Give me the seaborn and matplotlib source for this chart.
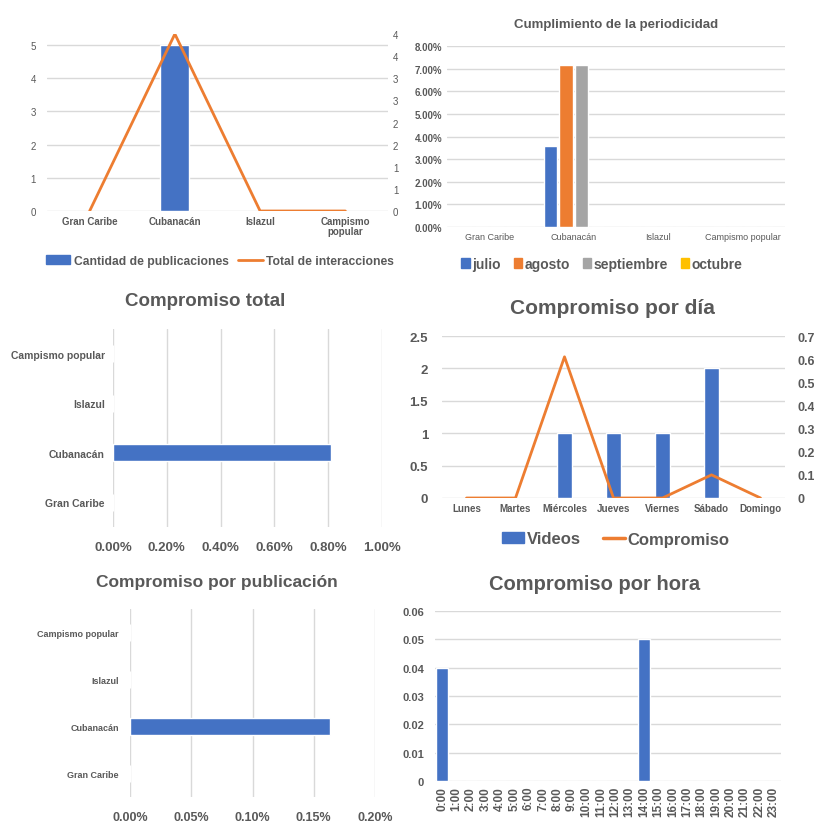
import math
import numpy as np
import pandas as pd
import matplotlib
matplotlib.use("Agg")
import matplotlib.pyplot as plt
from matplotlib.ticker import FuncFormatter, MultipleLocator
from matplotlib.patches import Patch
from matplotlib.lines import Line2D
import seaborn as sns

# ---------------- data ----------------
cadenas = ["Gran Caribe", "Cubanacán", "Islazul", "Campismo\npopular"]
cadenas_flat = ["Gran Caribe", "Cubanacán", "Islazul", "Campismo popular"]
publicaciones = [0, 5, 0, 0]
interacciones = [0, 4, 0, 0]

meses = ["julio", "agosto", "septiembre", "octubre"]
periodicidad_julio = [0, 0.0357, 0, 0]
periodicidad_agosto = [0, 0.0714, 0, 0]
periodicidad_septiembre = [0, 0.0714, 0, 0]
periodicidad_octubre = [0, 0, 0, 0]

compromiso_total = [0, 0.0081, 0, 0]

dias = ["Lunes", "Martes", "Miércoles", "Jueves", "Viernes", "Sábado", "Domingo"]
videos_dia = [0, 0, 1, 1, 1, 2, 0]
compromiso_dia = [0, 0, 0.61, 0, 0, 0.10, 0]

compromiso_pub = [0, 0.00163, 0, 0]

horas = [f"{h}:00" for h in range(24)]
compromiso_hora = [0.04] + [0] * 13 + [0.05] + [0] * 9

# ---------------- style ----------------
sns.set_theme(style="white")
plt.rcParams["font.family"] = ["Liberation Sans", "DejaVu Sans"]
TXT = "#595959"
GRID = "#D9D9D9"
BLUE = "#4472C4"
ORANGE = "#ED7D31"
GRAY = "#A5A5A5"
YELLOW = "#FFC000"

W, H = 814, 828
fig = plt.figure(figsize=(W / 100, H / 100), dpi=100)


def add_ax(x0, y0, x1, y1):
    return fig.add_axes([x0 / W, 1 - y1 / H, (x1 - x0) / W, (y1 - y0) / H])


def clean(ax, grid_axis="y"):
    for s in ax.spines.values():
        s.set_visible(False)
    ax.grid(True, axis=grid_axis, color=GRID, linewidth=1)
    ax.grid(False, axis="x" if grid_axis == "y" else "y")
    ax.tick_params(length=0, colors=TXT)
    ax.set_axisbelow(True)
    ax.set_xlabel("")
    ax.set_ylabel("")


def pct(dec):
    return FuncFormatter(lambda v, _: f"{v * 100:.{dec}f}%")


def gen(v, _):
    s = f"{v:.2f}".rstrip("0").rstrip(".")
    return s


# ---------- 1: publicaciones / interacciones ----------
ax1 = add_ax(47, 35, 388, 212)
df1 = pd.DataFrame({"cadena": cadenas, "pub": publicaciones, "inter": interacciones})
sns.barplot(data=df1, x="cadena", y="pub", color=BLUE, width=0.34, ax=ax1, saturation=1)
clean(ax1)
ax1.set_ylim(0, 5.33)
ax1.yaxis.set_major_locator(MultipleLocator(1))
ax1.set_xlim(-0.5, 3.5)
for t in ax1.get_yticklabels():
    t.set_fontsize(7)
for t in ax1.get_xticklabels():
    t.set_fontsize(7)
    t.set_fontweight("bold")
    t.set_linespacing(1.0)
ax1.tick_params(axis="y", pad=8)
ax1b = ax1.twinx()
sns.lineplot(x=np.arange(len(cadenas)), y=df1["inter"], color=ORANGE, linewidth=2, ax=ax1b)
for s in ax1b.spines.values():
    s.set_visible(False)
ax1b.set_ylim(0, 4)
ax1b.yaxis.set_major_locator(MultipleLocator(0.5))
ax1b.yaxis.set_major_formatter(FuncFormatter(lambda v, _: str(int(math.floor(v + 0.5)))))
ax1b.tick_params(length=0, colors=TXT, labelsize=7)
ax1b.set_ylabel("")
ax1b.grid(False)
ax1.set_xlim(-0.5, 3.5)
fig.legend(
    handles=[Patch(color=BLUE, label="Cantidad de publicaciones"),
             Line2D([], [], color=ORANGE, lw=2, label="Total de interacciones")],
    loc="center", bbox_to_anchor=(220 / W, 1 - 262 / H), ncol=2, frameon=False,
    handlelength=2.0, handleheight=0.8, columnspacing=0.8, handletextpad=0.3,
    labelcolor=TXT, prop={"weight": "bold", "size": 8.7},
)

# ---------- 2: Cumplimiento de la periodicidad ----------
ax2 = add_ax(447, 47, 785, 228)
df2 = pd.DataFrame({
    "cadena": cadenas_flat * 4,
    "mes": sum([[m] * 4 for m in meses], []),
    "valor": periodicidad_julio + periodicidad_agosto + periodicidad_septiembre + periodicidad_octubre,
})
sns.barplot(data=df2, x="cadena", y="valor", hue="mes", hue_order=meses,
            palette=[BLUE, ORANGE, GRAY, YELLOW], width=0.74, gap=0.15, ax=ax2,
            saturation=1, legend=False)
clean(ax2)
ax2.set_ylim(0, 0.08)
ax2.yaxis.set_major_locator(MultipleLocator(0.01))
ax2.yaxis.set_major_formatter(pct(2))
for t in ax2.get_yticklabels():
    t.set_fontsize(7)
    t.set_fontweight("bold")
for t in ax2.get_xticklabels():
    t.set_fontsize(6.5)
ax2.set_title("Cumplimiento de la periodicidad", fontsize=9.5, fontweight="bold", color=TXT, pad=14)
fig.legend(
    handles=[Patch(color=c, label=m) for c, m in zip([BLUE, ORANGE, GRAY, YELLOW], meses)],
    loc="center", bbox_to_anchor=(602 / W, 1 - 265 / H), ncol=4, frameon=False,
    handlelength=0.6, handleheight=0.8, columnspacing=0.9, handletextpad=0.2,
    labelcolor=TXT, prop={"weight": "bold", "size": 10},
)

# ---------- 3: Compromiso total ----------
ax3 = add_ax(113, 330, 382, 528)
df3 = pd.DataFrame({"cadena": cadenas_flat[::-1], "valor": compromiso_total[::-1]})
sns.barplot(data=df3, y="cadena", x="valor", color=BLUE, width=0.34, ax=ax3, saturation=1, orient="h")
clean(ax3, "x")
ax3.set_xlim(0, 0.01)
ax3.xaxis.set_major_locator(MultipleLocator(0.002))
ax3.xaxis.set_major_formatter(pct(2))
for t in ax3.get_xticklabels():
    t.set_fontsize(9.5)
    t.set_fontweight("bold")
for t in ax3.get_yticklabels():
    t.set_fontsize(7.5)
    t.set_fontweight("bold")
ax3.tick_params(axis="x", pad=10)
ax3.tick_params(axis="y", pad=6)
fig.text(205 / W, 1 - 302 / H, "Compromiso total", ha="center", va="center",
         fontsize=13.5, fontweight="bold", color=TXT)

# ---------- 4: Compromiso por día ----------
ax4 = add_ax(442, 337, 785, 499)
df4 = pd.DataFrame({"dia": dias, "videos": videos_dia, "comp": compromiso_dia})
sns.barplot(data=df4, x="dia", y="videos", color=BLUE, width=0.31, ax=ax4, saturation=1)
clean(ax4)
ax4.set_ylim(0, 2.5)
ax4.yaxis.set_major_locator(MultipleLocator(0.5))
ax4.yaxis.set_major_formatter(FuncFormatter(gen))
for t in ax4.get_yticklabels():
    t.set_fontsize(9.5)
    t.set_fontweight("bold")
for t in ax4.get_xticklabels():
    t.set_fontsize(7)
    t.set_fontweight("bold")
ax4.tick_params(axis="y", pad=10)
ax4b = ax4.twinx()
sns.lineplot(x=np.arange(len(dias)), y=df4["comp"], color=ORANGE, linewidth=2, ax=ax4b)
for s in ax4b.spines.values():
    s.set_visible(False)
ax4b.set_ylim(0, 0.7)
ax4b.yaxis.set_major_locator(MultipleLocator(0.1))
ax4b.yaxis.set_major_formatter(FuncFormatter(gen))
ax4b.tick_params(length=0, colors=TXT, labelsize=9, pad=9)
for t in ax4b.get_yticklabels():
    t.set_fontweight("bold")
ax4b.set_ylabel("")
ax4b.grid(False)
ax4.set_xlim(-0.5, 6.5)
fig.text(612 / W, 1 - 308 / H, "Compromiso por día", ha="center", va="center",
         fontsize=15, fontweight="bold", color=TXT)
fig.legend(
    handles=[Patch(color=BLUE, label="Videos"),
             Line2D([], [], color=ORANGE, lw=2.5, label="Compromiso")],
    loc="center", bbox_to_anchor=(616 / W, 1 - 540 / H), ncol=2, frameon=False,
    handlelength=1.3, handleheight=0.6, columnspacing=1.3, handletextpad=0.2,
    labelcolor=TXT, prop={"weight": "bold", "size": 12},
)

# ---------- 5: Compromiso por publicación ----------
ax5 = add_ax(130, 610, 375, 798)
df5 = pd.DataFrame({"cadena": cadenas_flat[::-1], "valor": compromiso_pub[::-1]})
sns.barplot(data=df5, y="cadena", x="valor", color=BLUE, width=0.36, ax=ax5, saturation=1, orient="h")
clean(ax5, "x")
ax5.set_xlim(0, 0.002)
ax5.xaxis.set_major_locator(MultipleLocator(0.0005))
ax5.xaxis.set_major_formatter(pct(2))
for t in ax5.get_xticklabels():
    t.set_fontsize(9)
    t.set_fontweight("bold")
for t in ax5.get_yticklabels():
    t.set_fontsize(6.5)
    t.set_fontweight("bold")
ax5.tick_params(axis="x", pad=10)
ax5.tick_params(axis="y", pad=8)
fig.text(217 / W, 1 - 582 / H, "Compromiso por publicación", ha="center", va="center",
         fontsize=12.5, fontweight="bold", color=TXT)

# ---------- 6: Compromiso por hora ----------
ax6 = add_ax(435, 612, 781, 782)
df6 = pd.DataFrame({"hora": horas, "valor": compromiso_hora})
sns.barplot(data=df6, x="hora", y="valor", color=BLUE, width=0.8, ax=ax6, saturation=1)
clean(ax6)
ax6.set_ylim(0, 0.06)
ax6.yaxis.set_major_locator(MultipleLocator(0.01))
ax6.yaxis.set_major_formatter(FuncFormatter(gen))
for t in ax6.get_yticklabels():
    t.set_fontsize(8)
    t.set_fontweight("bold")
for t in ax6.get_xticklabels():
    t.set_fontsize(8.5)
    t.set_fontweight("bold")
    t.set_rotation(90)
ax6.tick_params(axis="y", pad=8)
fig.text(595 / W, 1 - 585 / H, "Compromiso por hora", ha="center", va="center",
         fontsize=14.5, fontweight="bold", color=TXT)

fig.savefig("out.png", dpi=100, facecolor="white")
